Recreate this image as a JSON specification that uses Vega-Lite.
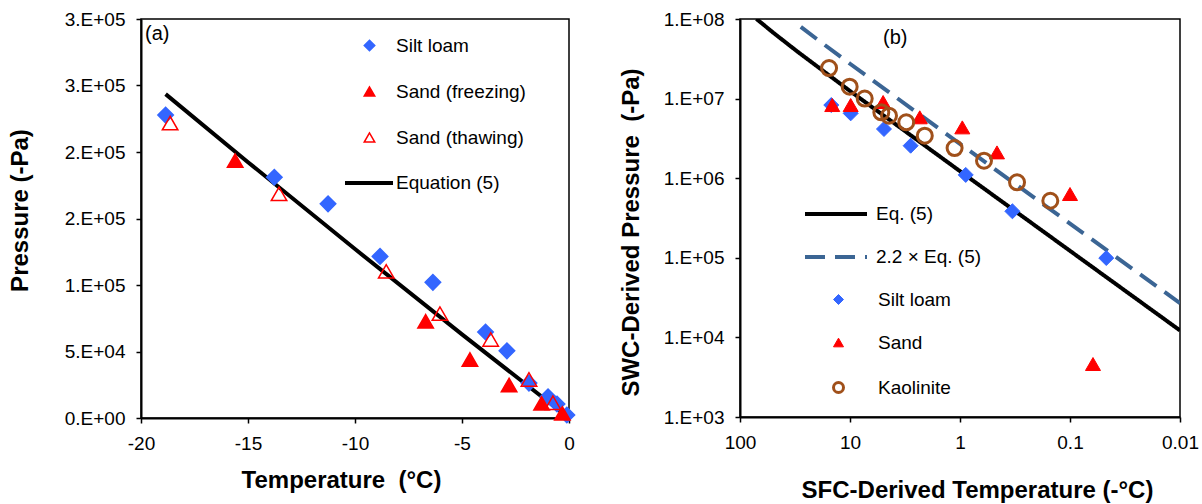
{
  "$schema": "https://vega.github.io/schema/vega-lite/v6.json",
  "background": "white",
  "padding": {"left": 7, "top": 9, "right": 5, "bottom": 0},
  "spacing": 39,
  "resolve": {
    "scale": {"shape": "independent", "fill": "independent", "stroke": "independent", "strokeWidth": "independent", "color": "independent", "strokeDash": "independent"},
    "legend": {"shape": "independent", "fill": "independent", "stroke": "independent", "strokeWidth": "independent", "color": "independent", "strokeDash": "independent"}
  },
  "config": {
    "font": "Liberation Sans",
    "view": {"stroke": "black", "strokeWidth": 1.5},
    "axis": {
      "grid": false, "domainColor": "black", "domainWidth": 2,
      "tickColor": "black", "tickWidth": 1.5, "tickSize": 5,
      "labelFont": "Liberation Sans", "labelFontSize": 19, "labelColor": "black",
      "labelPadding": 11, "labelOverlap": false, "labelFlush": false,
      "titleFont": "Liberation Sans", "titleFontSize": 24, "titleFontWeight": "bold", "titleColor": "black"
    },
    "legend": {"labelFont": "Liberation Sans", "labelFontSize": 19, "labelColor": "black", "padding": 0, "title": null}
  },
  "hconcat": [
    {
      "width": 428, "height": 399,
      "title": {"text": "(a)", "anchor": "start", "frame": "group", "orient": "top", "offset": -29, "dx": 4, "dy": 15, "baseline": "middle", "fontSize": 20, "fontWeight": "normal", "font": "Liberation Sans", "color": "black"},
      "layer": [
        {
          "data": {"values": [
            {"line": "Equation (5)", "T": -18.85, "P": 243540}, {"line": "Equation (5)", "T": -15, "P": 192356}, {"line": "Equation (5)", "T": -10, "P": 127020}, {"line": "Equation (5)", "T": -5, "P": 62920}, {"line": "Equation (5)", "T": 0, "P": 0}
          ]},
          "mark": {"type": "line", "strokeWidth": 4},
          "encoding": {
            "x": {"field": "T", "type": "quantitative", "scale": {"domain": [-20, 0], "nice": false, "zero": false},
              "axis": {"title": "Temperature \u00a0(°C)", "values": [-20, -15, -10, -5, 0], "labelExpr": "'' + datum.value", "titleX": 200, "titleY": 69, "titleBaseline": "alphabetic",
                "encode": {"ticks": {"update": {"y": {"value": -5}}}}}},
            "y": {"field": "P", "type": "quantitative", "scale": {"domain": [0, 300000], "nice": false, "zero": false},
              "axis": {"title": "Pressure (-Pa)", "values": [0, 50000, 100000, 150000, 200000, 250000, 300000],
                "labelExpr": "['0.E+00','5.E+04','1.E+05','2.E+05','2.E+05','3.E+05','3.E+05'][round(datum.value/50000)]",
                "titleX": -109, "titleY": 191,
                "encode": {"ticks": {"update": {"x": {"value": 5}}}}}},
            "color": {"field": "line", "type": "nominal", "scale": {"domain": ["Equation (5)"], "range": ["black"]},
              "legend": {"title": null, "orient": "none", "legendX": 202, "legendY": 138, "symbolType": "stroke", "symbolSize": 2304, "symbolStrokeWidth": 4, "labelOffset": 1}}
          }
        },
        {
          "data": {"values": [
            {"series": "Silt loam", "T": -18.85, "P": 227750},
            {"series": "Silt loam", "T": -13.77, "P": 181000},
            {"series": "Silt loam", "T": -11.26, "P": 161000},
            {"series": "Silt loam", "T": -8.83, "P": 121500},
            {"series": "Silt loam", "T": -6.36, "P": 102000},
            {"series": "Silt loam", "T": -3.9, "P": 64700},
            {"series": "Silt loam", "T": -2.9, "P": 50500},
            {"series": "Silt loam", "T": -1.87, "P": 26250},
            {"series": "Silt loam", "T": -0.98, "P": 16000},
            {"series": "Silt loam", "T": -0.56, "P": 10500},
            {"series": "Silt loam", "T": -0.1, "P": 2250},
            {"series": "Sand (freezing)", "T": -15.6, "P": 193500},
            {"series": "Sand (freezing)", "T": -6.7, "P": 72750},
            {"series": "Sand (freezing)", "T": -4.63, "P": 44000},
            {"series": "Sand (freezing)", "T": -2.8, "P": 24750},
            {"series": "Sand (freezing)", "T": -1.28, "P": 11000},
            {"series": "Sand (freezing)", "T": -0.31, "P": 3500},
            {"series": "Sand (thawing)", "T": -18.64, "P": 221750},
            {"series": "Sand (thawing)", "T": -13.55, "P": 168500},
            {"series": "Sand (thawing)", "T": -8.54, "P": 110250},
            {"series": "Sand (thawing)", "T": -6.03, "P": 78500},
            {"series": "Sand (thawing)", "T": -3.66, "P": 59000},
            {"series": "Sand (thawing)", "T": -1.87, "P": 29000},
            {"series": "Sand (thawing)", "T": -0.75, "P": 11500}
          ]},
          "mark": {"type": "point", "size": 240, "strokeWidth": 1.5, "opacity": 1},
          "encoding": {
            "x": {"field": "T", "type": "quantitative"},
            "y": {"field": "P", "type": "quantitative"},
            "shape": {"field": "series", "type": "nominal",
              "scale": {"domain": ["Silt loam", "Sand (freezing)", "Sand (thawing)"], "range": ["diamond", "triangle-up", "triangle-up"]},
              "legend": {"title": null, "orient": "none", "legendX": 219, "legendY": 17, "symbolSize": 110, "symbolStrokeWidth": 1.5, "labelOffset": 17, "rowPadding": 26}},
            "fill": {"field": "series", "type": "nominal",
              "scale": {"domain": ["Silt loam", "Sand (freezing)", "Sand (thawing)"], "range": ["#3366ff", "#ff0000", "transparent"]},
              "legend": {"title": null, "orient": "none", "legendX": 219, "legendY": 17, "symbolSize": 110, "symbolStrokeWidth": 1.5, "labelOffset": 17, "rowPadding": 26}},
            "stroke": {"field": "series", "type": "nominal",
              "scale": {"domain": ["Silt loam", "Sand (freezing)", "Sand (thawing)"], "range": ["#3366ff", "#ff0000", "#ff0000"]},
              "legend": {"title": null, "orient": "none", "legendX": 219, "legendY": 17, "symbolSize": 110, "symbolStrokeWidth": 1.5, "labelOffset": 17, "rowPadding": 26}}
          }
        }
      ]
    },
    {
      "width": 440, "height": 398,
      "title": {"text": "(b)", "anchor": "start", "frame": "group", "orient": "top", "offset": -31, "dx": 143, "dy": 17, "baseline": "middle", "fontSize": 20, "fontWeight": "normal", "font": "Liberation Sans", "color": "black"},
      "layer": [
        {
          "data": {"values": [
            {"line": "Eq. (5)", "T": 0.01, "P": 12228}, {"line": "Eq. (5)", "T": 0.1, "P": 122300}, {"line": "Eq. (5)", "T": 1, "P": 1225010}, {"line": "Eq. (5)", "T": 10, "P": 12456900}, {"line": "Eq. (5)", "T": 30, "P": 38859000}, {"line": "Eq. (5)", "T": 50, "P": 67525000}, {"line": "Eq. (5)", "T": 71, "P": 100541000},
            {"line": "2.2 × Eq. (5)", "T": 0.01, "P": 26902}, {"line": "2.2 × Eq. (5)", "T": 0.1, "P": 269060}, {"line": "2.2 × Eq. (5)", "T": 1, "P": 2695020}, {"line": "2.2 × Eq. (5)", "T": 10, "P": 27405200}, {"line": "2.2 × Eq. (5)", "T": 20, "P": 55873000}, {"line": "2.2 × Eq. (5)", "T": 28, "P": 79470000}
          ]},
          "mark": {"type": "line", "strokeWidth": 4, "clip": true},
          "encoding": {
            "x": {"field": "T", "type": "quantitative", "scale": {"type": "log", "domain": [0.01, 100], "reverse": true, "nice": false},
              "axis": {"title": "SFC-Derived Temperature (-°C)", "values": [0.01, 0.1, 1, 10, 100], "labelExpr": "format(datum.value, '~g')", "titleX": 237, "titleY": 80, "titleBaseline": "alphabetic",
                "encode": {"ticks": {"update": {"y": {"value": -5}}}}}},
            "y": {"field": "P", "type": "quantitative", "scale": {"type": "log", "domain": [1000, 100000000], "nice": false},
              "axis": {"title": "SWC-Derived Pressure \u00a0(-Pa)", "values": [1000, 10000, 100000, 1000000, 10000000, 100000000],
                "labelExpr": "'1.E+0' + round(log(datum.value)/LN10)", "titleX": -97, "titleY": 213,
                "encode": {"ticks": {"update": {"x": {"value": 5}}}}}},
            "color": {"field": "line", "type": "nominal", "scale": {"domain": ["Eq. (5)", "2.2 × Eq. (5)"], "range": ["black", "#3b6594"]},
              "legend": {"title": null, "orient": "none", "legendX": 63, "legendY": 162, "symbolType": "stroke", "symbolSize": 3844, "symbolStrokeWidth": 4, "labelOffset": 7, "rowPadding": -1}},
            "strokeDash": {"field": "line", "type": "nominal", "scale": {"domain": ["Eq. (5)", "2.2 × Eq. (5)"], "range": [[1, 0], [20, 10]]},
              "legend": {"title": null, "orient": "none", "legendX": 63, "legendY": 162, "symbolType": "stroke", "symbolSize": 3844, "symbolStrokeWidth": 4, "labelOffset": 7, "rowPadding": -1}}
          }
        },
        {
          "data": {"values": [
            {"series": "Silt loam", "T": 14.8, "P": 8300000},
            {"series": "Silt loam", "T": 9.86, "P": 6530000},
            {"series": "Silt loam", "T": 4.91, "P": 4150000},
            {"series": "Silt loam", "T": 2.81, "P": 2560000},
            {"series": "Silt loam", "T": 0.887, "P": 1100000},
            {"series": "Silt loam", "T": 0.334, "P": 384000},
            {"series": "Silt loam", "T": 0.0468, "P": 99300},
            {"series": "Sand", "T": 14.5, "P": 8300000},
            {"series": "Sand", "T": 9.86, "P": 8300000},
            {"series": "Sand", "T": 5.0, "P": 9060000},
            {"series": "Sand", "T": 2.32, "P": 5820000},
            {"series": "Sand", "T": 0.953, "P": 4350000},
            {"series": "Sand", "T": 0.461, "P": 2110000},
            {"series": "Sand", "T": 0.1, "P": 633000},
            {"series": "Sand", "T": 0.0618, "P": 4630},
            {"series": "Kaolinite", "T": 15.5, "P": 24200000},
            {"series": "Kaolinite", "T": 10.07, "P": 14100000},
            {"series": "Kaolinite", "T": 7.35, "P": 10000000},
            {"series": "Kaolinite", "T": 5.19, "P": 6730000},
            {"series": "Kaolinite", "T": 4.42, "P": 6100000},
            {"series": "Kaolinite", "T": 3.08, "P": 5040000},
            {"series": "Kaolinite", "T": 2.09, "P": 3420000},
            {"series": "Kaolinite", "T": 1.12, "P": 2390000},
            {"series": "Kaolinite", "T": 0.605, "P": 1660000},
            {"series": "Kaolinite", "T": 0.303, "P": 887000},
            {"series": "Kaolinite", "T": 0.151, "P": 521000}
          ]},
          "mark": {"type": "point", "size": 225, "opacity": 1},
          "encoding": {
            "x": {"field": "T", "type": "quantitative"},
            "y": {"field": "P", "type": "quantitative"},
            "strokeWidth": {"field": "series", "type": "nominal", "legend": null,
              "scale": {"type": "ordinal", "domain": ["Silt loam", "Sand", "Kaolinite"], "range": [1, 1, 3]}},
            "shape": {"field": "series", "type": "nominal",
              "scale": {"domain": ["Silt loam", "Sand", "Kaolinite"], "range": ["diamond", "triangle-up", "circle"]},
              "legend": {"title": null, "orient": "none", "legendX": 89, "legendY": 271, "symbolSize": 100, "labelOffset": 30, "rowPadding": 23}},
            "fill": {"field": "series", "type": "nominal",
              "scale": {"domain": ["Silt loam", "Sand", "Kaolinite"], "range": ["#3366ff", "#ff0000", "transparent"]},
              "legend": {"title": null, "orient": "none", "legendX": 89, "legendY": 271, "symbolSize": 100, "labelOffset": 30, "rowPadding": 23}},
            "stroke": {"field": "series", "type": "nominal",
              "scale": {"domain": ["Silt loam", "Sand", "Kaolinite"], "range": ["#3366ff", "#ff0000", "#a0501a"]},
              "legend": {"title": null, "orient": "none", "legendX": 89, "legendY": 271, "symbolSize": 100, "labelOffset": 30, "rowPadding": 23}}
          }
        }
      ]
    }
  ]
}
